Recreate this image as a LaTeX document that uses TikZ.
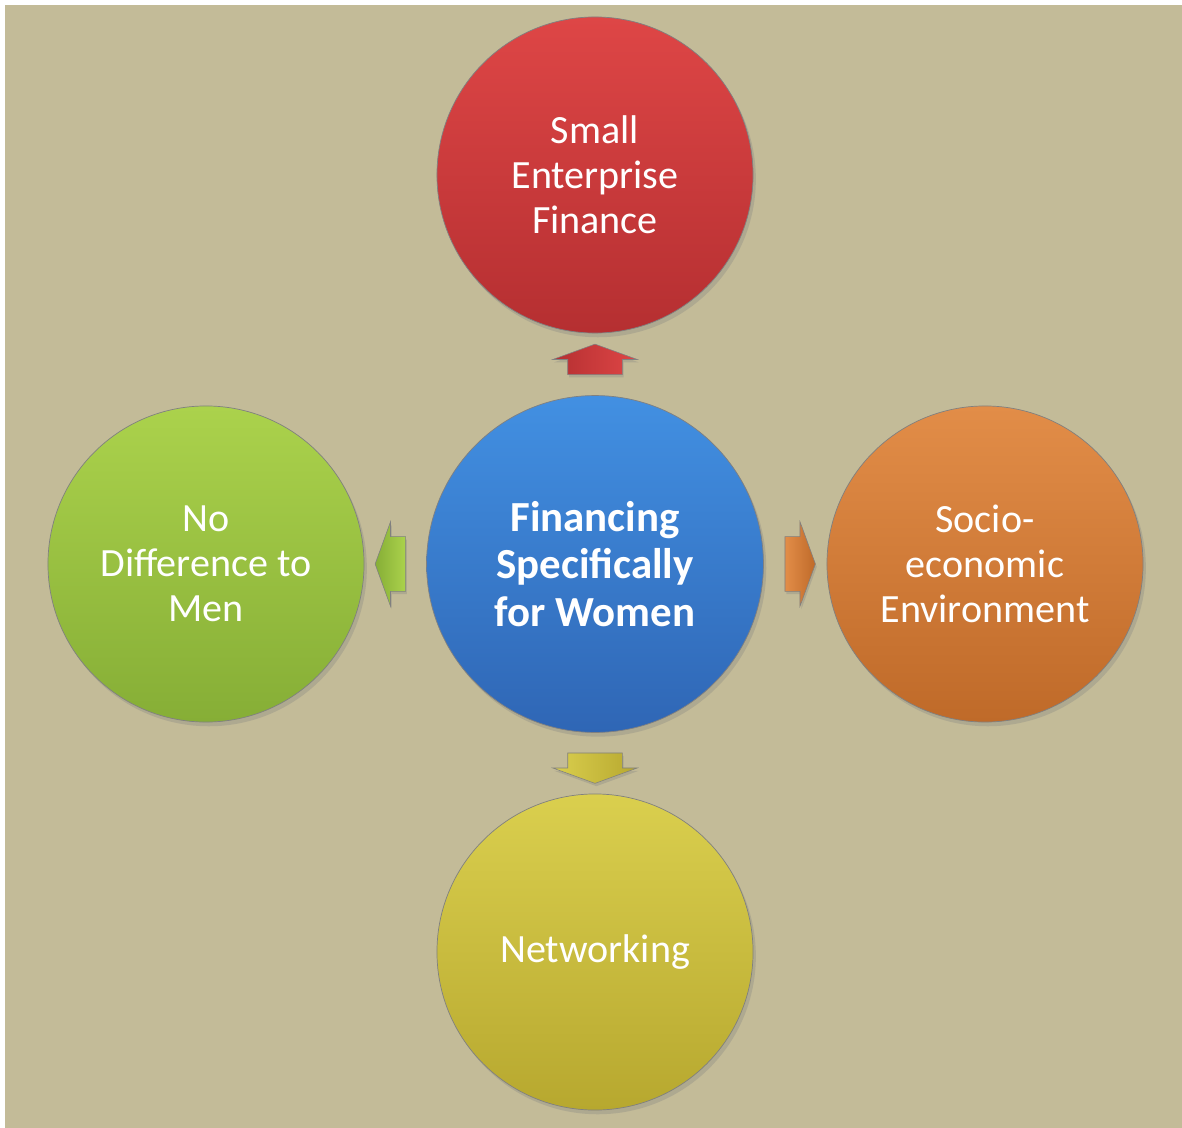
\documentclass[tikz,border=0pt]{standalone}
\usepackage{fontspec}
\setmainfont{Carlito}
\usetikzlibrary{shapes.arrows,shadows,calc}

\definecolor{paper}{HTML}{C3BB98}
\definecolor{redT}{HTML}{DE4646}
\definecolor{redB}{HTML}{B52F31}
\definecolor{bluT}{HTML}{4290E2}
\definecolor{bluB}{HTML}{2F66B5}
\definecolor{grnT}{HTML}{ABD24C}
\definecolor{grnB}{HTML}{86AE36}
\definecolor{orgT}{HTML}{E28D48}
\definecolor{orgB}{HTML}{BF6A29}
\definecolor{ylwT}{HTML}{DACF4E}
\definecolor{ylwB}{HTML}{B7A82F}

\begin{document}
\begin{tikzpicture}[x=0.025cm, y=-0.025cm,
  bubble/.style={circle, minimum size=7.9cm, inner sep=0pt, align=center,
    text=white, font=\fontsize{28.5}{32}\selectfont, draw=black!50, line width=0.5pt,
    drop shadow={opacity=0.3, shadow xshift=2pt, shadow yshift=-3pt}},
  hubball/.style={bubble, minimum size=8.42cm, font=\fontsize{30.5}{33.5}\selectfont\bfseries},
  blockarrow/.style={single arrow, inner xsep=0pt, inner ysep=0.675cm, minimum height=0.76cm,
    single arrow head extend=0.375cm, single arrow tip angle=140, draw=black!50, line width=0.4pt,
    drop shadow={opacity=0.3, shadow xshift=1pt, shadow yshift=-2pt}}]
  \useasboundingbox (0,0) rectangle (1182,1128);
  \fill[paper] (5,5) rectangle (1182,1128);

  % circles
  \node[hubball, top color=bluT, bottom color=bluB] (hub) at (595,564) {Financing\\Specifically\\for Women};
  \node[bubble, top color=redT, bottom color=redB] (sef) at (595,175) {Small\\Enterprise\\Finance};
  \node[bubble, top color=grnT, bottom color=grnB] (ndm) at (206,564) {No\\Difference to\\Men};
  \node[bubble, top color=orgT, bottom color=orgB] (see) at (985,564) {Socio-\\economic\\Environment};
  \node[bubble, top color=ylwT, bottom color=ylwB] (net) at (595,952) {Networking};

  % arrows
  \node[blockarrow, rotate=90, left color=redB, right color=redT] (toSef) at ($(hub.north)!0.5!(sef.south)$) {};
  \node[blockarrow, rotate=180, left color=grnB, right color=grnT] (toNdm) at ($(hub.west)!0.5!(ndm.east)$) {};
  \node[blockarrow, left color=orgT, right color=orgB] (toSee) at ($(hub.east)!0.5!(see.west)$) {};
  \node[blockarrow, rotate=-90, left color=ylwT, right color=ylwB] (toNet) at ($(hub.south)!0.5!(net.north)$) {};
\end{tikzpicture}
\end{document}
